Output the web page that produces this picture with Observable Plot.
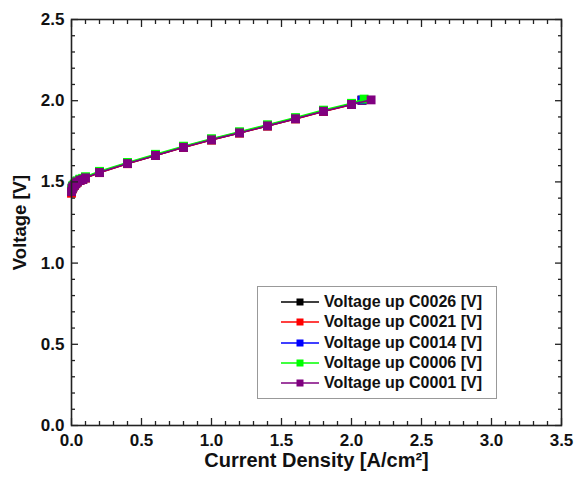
<!DOCTYPE html>
<html>
<head>
<meta charset="utf-8">
<script src="https://cdn.jsdelivr.net/npm/d3@7"></script>
<script src="https://cdn.jsdelivr.net/npm/@observablehq/plot@0.6"></script>
<style>
  body { margin: 0; background: #fff; }
  #wrap { position: relative; width: 576px; height: 478px; font-family: "Liberation Sans", Arial, sans-serif; }
  #legend { position: absolute; left: 257px; top: 286px; width: 238px; height: 106px; border: 1px solid #999; background: #fff; box-sizing: content-box; padding-top: 5px; }
  .row { display: flex; align-items: center; height: 20.3px; font-weight: bold; font-size: 16px; color: #111; white-space: nowrap; }
  .row svg { margin-left: 23px; margin-right: 5px; flex: none; }
</style>
</head>
<body>
<div id="wrap"></div>
<script>
// ---- data ----
const seriesNames = ["Voltage up C0026 [V]", "Voltage up C0021 [V]", "Voltage up C0014 [V]", "Voltage up C0006 [V]", "Voltage up C0001 [V]"];
const seriesColors = ["#000000", "#ff0000", "#0000ff", "#00ff00", "#800080"];
const currentDensity = [0, 0.005, 0.01, 0.02, 0.03, 0.04, 0.06, 0.08, 0.1, 0.2, 0.4, 0.6, 0.8, 1.0, 1.2, 1.4, 1.6, 1.8, 2.0];
const vC0026 = [1.44, 1.46, 1.47, 1.48, 1.49, 1.50, 1.51, 1.515, 1.525, 1.558, 1.613, 1.663, 1.713, 1.759, 1.802, 1.845, 1.889, 1.935, 1.977];
const vC0021 = [1.43, 1.455, 1.466, 1.478, 1.488, 1.498, 1.509, 1.514, 1.524, 1.557, 1.612, 1.662, 1.712, 1.758, 1.801, 1.844, 1.888, 1.934, 1.976];
const vC0014 = [1.445, 1.462, 1.473, 1.483, 1.493, 1.503, 1.513, 1.518, 1.528, 1.561, 1.616, 1.666, 1.716, 1.762, 1.805, 1.848, 1.892, 1.938, 1.980];
const vC0006 = [1.45, 1.465, 1.477, 1.487, 1.497, 1.507, 1.517, 1.522, 1.532, 1.565, 1.620, 1.670, 1.720, 1.766, 1.809, 1.852, 1.896, 1.942, 1.984];
const vC0001 = [1.44, 1.46, 1.47, 1.48, 1.49, 1.50, 1.51, 1.515, 1.525, 1.558, 1.613, 1.663, 1.713, 1.759, 1.802, 1.845, 1.889, 1.935, 1.977];
const lastJ = [2.075, 2.075, 2.075, 2.09, 2.14];
const lastV = [2.003, 2.003, 2.004, 2.01, 2.005];
const xMajor = [0, 0.5, 1.0, 1.5, 2.0, 2.5, 3.0, 3.5];
const yMajor = [0, 0.5, 1.0, 1.5, 2.0, 2.5];
const xTitle = "Current Density [A/cm²]";
const yTitle = "Voltage [V]";

const voltages = [vC0026, vC0021, vC0014, vC0006, vC0001];
const rows = [];
seriesNames.forEach((name, i) => {
  currentDensity.forEach((j, k) => rows.push({series: name, j, v: voltages[i][k]}));
  rows.push({series: name, j: lastJ[i], v: lastV[i]});
});
const xMinor = d3.range(0, 35.01, 1).map(d => d / 10).filter(d => Math.round(d * 10) % 5 !== 0);
const yMinor = d3.range(0, 25.01, 1).map(d => d / 10).filter(d => Math.round(d * 10) % 5 !== 0);

const seriesMarks = seriesNames.flatMap(name => {
  const d = rows.filter(r => r.series === name);
  return [
    Plot.line(d, {x: "j", y: "v", stroke: "series", strokeWidth: 1.6}),
    Plot.dot(d, {x: "j", y: "v", fill: "series", symbol: "square", r: 5})
  ];
});

const tickStyle = {stroke: "#222", strokeWidth: 1.3};
const chart = Plot.plot({
  width: 576,
  height: 478,
  marginLeft: 71,
  marginRight: 15,
  marginTop: 19,
  marginBottom: 53,
  style: {fontFamily: "Liberation Sans, Arial, sans-serif", fontSize: "17px", fontWeight: "bold", color: "#111", background: "#fff"},
  x: {domain: [0, 3.5]},
  y: {domain: [0, 2.5]},
  color: {domain: seriesNames, range: seriesColors},
  marks: [
    ...seriesMarks,
    // inward ticks, all four sides
    Plot.axisX(xMajor, {anchor: "bottom", tickSize: 7, dy: -7, tickFormat: () => "", label: null, ...tickStyle}),
    Plot.axisX(xMinor, {anchor: "bottom", tickSize: 4, dy: -4, tickFormat: () => "", label: null, ...tickStyle}),
    Plot.axisX(xMajor, {anchor: "top", tickSize: 7, dy: 7, tickFormat: () => "", label: null, ...tickStyle}),
    Plot.axisX(xMinor, {anchor: "top", tickSize: 4, dy: 4, tickFormat: () => "", label: null, ...tickStyle}),
    Plot.axisY(yMajor, {anchor: "left", tickSize: 7, dx: 7, tickFormat: () => "", label: null, ...tickStyle}),
    Plot.axisY(yMinor, {anchor: "left", tickSize: 4, dx: 4, tickFormat: () => "", label: null, ...tickStyle}),
    Plot.axisY(yMajor, {anchor: "right", tickSize: 7, dx: -7, tickFormat: () => "", label: null, ...tickStyle}),
    Plot.axisY(yMinor, {anchor: "right", tickSize: 4, dx: -4, tickFormat: () => "", label: null, ...tickStyle}),
    // tick labels
    Plot.axisX(xMajor, {anchor: "bottom", tickSize: 0, tickPadding: 8, tickFormat: d3.format(".1f"), label: null, fontSize: 17, fill: "#111"}),
    Plot.axisY(yMajor, {anchor: "left", tickSize: 0, tickPadding: 7, tickFormat: d3.format(".1f"), label: null, fontSize: 17, fill: "#111"}),
    Plot.frame({stroke: "#222", strokeWidth: 1.6}),
    // axis titles
    Plot.text([xTitle], {frameAnchor: "bottom", text: d => d, dy: 41, fontSize: 20, fontWeight: "bold", fill: "#111", textAnchor: "middle"}),
    Plot.text([yTitle], {frameAnchor: "left", text: d => d, dx: -51, rotate: -90, fontSize: 18.5, fontWeight: "bold", fill: "#111", textAnchor: "middle"})
  ]
});

const wrap = document.getElementById("wrap");
wrap.appendChild(chart);

const legend = document.createElement("div");
legend.id = "legend";
seriesNames.forEach((name, i) => {
  const row = document.createElement("div");
  row.className = "row";
  const c = seriesColors[i];
  row.innerHTML = `<svg width="38" height="10"><line x1="0" x2="38" y1="5" y2="5" stroke="${c}" stroke-width="1.6"/><rect x="15.5" y="1.5" width="7" height="7" fill="${c}"/></svg><span>${name}</span>`;
  legend.appendChild(row);
});
wrap.appendChild(legend);
</script>
</body>
</html>
